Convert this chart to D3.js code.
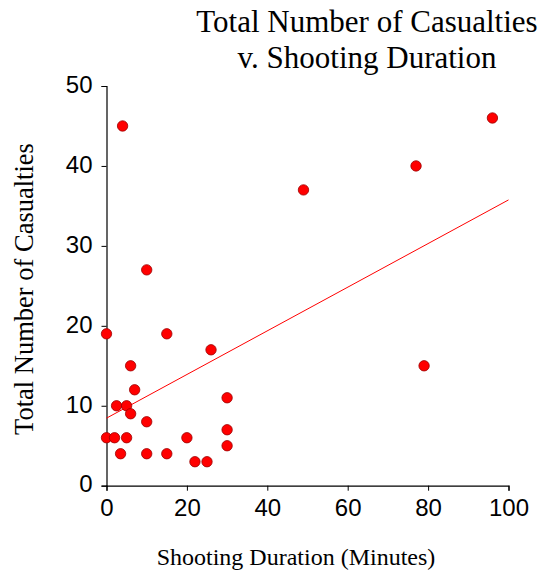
<!DOCTYPE html>
<html>
<head>
<meta charset="utf-8">
<script src="https://cdn.jsdelivr.net/npm/d3@7"></script>
<style>
  html, body { margin: 0; padding: 0; background: #fff; }
  svg { display: block; }
</style>
</head>
<body>
<svg id="chart" width="550" height="574"></svg>
<script>
// Data
const durationMinutes = [0, 15, 26, 6, 7, 30, 2.5, 5, 6, 10, 0, 2, 5, 20, 30, 30, 3.5, 10, 15, 22, 25, 4, 10, 49, 77, 96, 79];
const totalCasualties = [19, 19, 17, 15, 12, 11, 10, 10, 9, 8, 6, 6, 6, 6, 7, 5, 4, 4, 4, 3, 3, 45, 27, 37, 40, 46, 15];
const xTicks = [0, 20, 40, 60, 80, 100];
const yTicks = [0, 10, 20, 30, 40, 50];
// Trend line as drawn in the reference (intercept, slope)
const trendIntercept = 8.45;
const trendSlope = 0.273;
const trendRange = [0, 100];
const titleLines = ["Total Number of Casualties", "v. Shooting Duration"];
const xTitle = "Shooting Duration (Minutes)";
const yTitle = "Total Number of Casualties";

const svg = d3.select("#chart");
const x = d3.scaleLinear().domain([0, 100]).range([106.5, 508.5]);
const y = d3.scaleLinear().domain([0, 50]).range([485.7, 86]);

const serif = "'Liberation Serif', 'Times New Roman', serif";
const sans = "'Liberation Sans', Arial, sans-serif";

// Axes
const xAxis = svg.append("g")
  .attr("transform", `translate(0,${y(0)})`)
  .call(d3.axisBottom(x).tickValues(xTicks).tickSize(5).tickPadding(8));
const yAxis = svg.append("g")
  .attr("transform", `translate(${x(0)},0)`)
  .call(d3.axisLeft(y).tickValues(yTicks).tickSize(5).tickPadding(9));

[xAxis, yAxis].forEach(g => {
  g.selectAll("path.domain").attr("stroke", "#000").attr("stroke-width", 1.2);
  g.selectAll(".tick line").attr("stroke", "#000").attr("stroke-width", 1);
  g.selectAll(".tick text")
    .attr("fill", "#000")
    .style("font-family", sans)
    .style("font-size", "24px");
});
yAxis.selectAll(".tick text").attr("dy", "0.26em");

// Trend line
svg.append("line")
  .attr("x1", x(trendRange[0]))
  .attr("y1", y(trendIntercept + trendSlope * trendRange[0]))
  .attr("x2", x(trendRange[1]))
  .attr("y2", y(trendIntercept + trendSlope * trendRange[1]))
  .attr("stroke", "#ff0000")
  .attr("stroke-width", 1);

// Points
const pts = durationMinutes.map((d, i) => ({ x: d, y: totalCasualties[i] }));
svg.append("g").selectAll("circle")
  .data(pts)
  .join("circle")
  .attr("cx", d => x(d.x))
  .attr("cy", d => y(d.y))
  .attr("r", 5.2)
  .attr("fill", "#ff0000")
  .attr("stroke", "#9a0000")
  .attr("stroke-width", 0.8);

// Title
const title = svg.append("text")
  .attr("text-anchor", "middle")
  .style("font-family", serif)
  .style("font-size", "31px")
  .attr("fill", "#000");
titleLines.forEach((t, i) => {
  title.append("tspan")
    .attr("x", 367)
    .attr("y", 32.3 + i * 35.5)
    .text(t);
});

// Axis titles
svg.append("text")
  .attr("x", 296)
  .attr("y", 565)
  .attr("text-anchor", "middle")
  .style("font-family", serif)
  .style("font-size", "24px")
  .attr("fill", "#000")
  .text(xTitle);

svg.append("text")
  .attr("transform", "translate(33,289) rotate(-90)")
  .attr("text-anchor", "middle")
  .style("font-family", serif)
  .style("font-size", "26.5px")
  .attr("fill", "#000")
  .text(yTitle);
</script>
</body>
</html>
